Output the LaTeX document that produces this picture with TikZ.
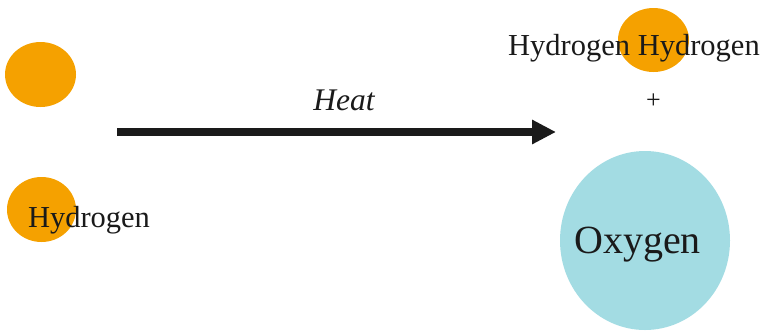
\documentclass[tikz,border=0pt]{standalone}
\usepackage{fontspec}
\setmainfont{Liberation Serif}
\usetikzlibrary{arrows.meta}
\definecolor{atomorange}{HTML}{F5A100}
\definecolor{atomcyan}{HTML}{A3DCE3}
\definecolor{ink}{HTML}{1A1A1A}
\begin{document}
\begin{tikzpicture}[x=1pt,y=-1pt,
  label/.style={text=ink,inner sep=0pt,anchor=base,font=\fontsize{30.5}{36}\selectfont},
  ]
\useasboundingbox (0,0) rectangle (765,330);
% hydrogen atoms before heating
\fill[atomorange] (40.5,74.5) ellipse [x radius=35.5, y radius=32.5];
\fill[atomorange] (41.5,209.5) ellipse [x radius=34.5, y radius=32.5];
\node[label] (h1) at (89,227) {Hydrogen};
% reaction arrow
\coordinate (a0) at (117,132);
\coordinate (a1) at (556,132);
\draw[ink,line width=8pt,-{Triangle[length=24pt,width=23pt]}] (a0) -- (a1);
\node[label,font=\fontsize{31.5}{36}\selectfont\itshape] (heat) at (344,110) {Heat};
% products
\fill[atomorange] (653.5,40) ellipse [x radius=35.5, y radius=32];
\node[label] (h2) at (634,55) {Hydrogen Hydrogen};
\node[label,font=\fontsize{26}{30}\selectfont] (plus) at (653.5,108) {+};
\fill[atomcyan] (645,240.5) ellipse [x radius=85, y radius=89.5];
\node[label,font=\fontsize{40}{46}\selectfont] (ox) at (637.5,253) {Oxygen};
\end{tikzpicture}
\end{document}
